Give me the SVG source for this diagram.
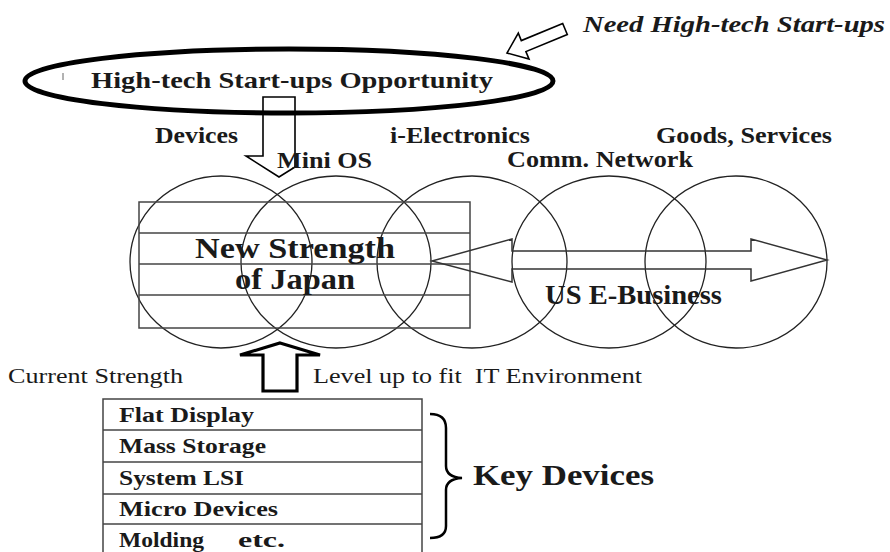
<svg xmlns="http://www.w3.org/2000/svg" width="890" height="552" viewBox="0 0 890 552">
<style>
text{font-family:"Liberation Serif","Times New Roman",serif;fill:#1a1a1a}
.b{font-weight:bold}
.lbl{font-size:24px;font-weight:bold}
.row{font-size:20px;font-weight:bold}
.reg{font-size:22px;white-space:pre}
.thin{fill:none;stroke:#222;stroke-width:1.3}
.grid{fill:none;stroke:#444;stroke-width:1.5}
</style>
<rect width="890" height="552" fill="#fff"/>

<g id="opportunity">
<ellipse cx="289" cy="81" rx="264" ry="32" fill="none" stroke="#000" stroke-width="5"/>
<line x1="63" y1="73" x2="63" y2="80" stroke="#666" stroke-width="1"/>
<text class="b" x="91" y="88" font-size="23" textLength="402" lengthAdjust="spacingAndGlyphs">High-tech Start-ups Opportunity</text>
</g>

<g id="need">
<text class="b" x="583" y="32" font-size="23" font-style="italic" textLength="302" lengthAdjust="spacingAndGlyphs">Need High-tech Start-ups</text>
</g>

<g id="circles">
<ellipse class="thin" cx="221" cy="262" rx="91" ry="86"/>
<ellipse class="thin" cx="336" cy="262" rx="95" ry="86"/>
<ellipse class="thin" cx="472" cy="262" rx="95" ry="86"/>
<ellipse class="thin" cx="609" cy="262" rx="97" ry="86"/>
<ellipse class="thin" cx="736" cy="262" rx="91" ry="86"/>
</g>

<g id="new-strength">
<rect class="grid" x="139" y="202" width="331" height="126"/>
<line class="grid" x1="139" y1="233" x2="470" y2="233"/>
<line class="grid" x1="139" y1="264" x2="470" y2="264"/>
<line class="grid" x1="139" y1="295" x2="470" y2="295"/>
<text class="b" x="195" y="258" font-size="30" textLength="200" lengthAdjust="spacingAndGlyphs">New Strength</text>
<text class="b" x="235" y="289" font-size="30" textLength="120" lengthAdjust="spacingAndGlyphs">of Japan</text>
</g>

<g id="labels">
<text class="lbl" x="155" y="143" textLength="83" lengthAdjust="spacingAndGlyphs">Devices</text>
<text class="lbl" x="390" y="143" textLength="140" lengthAdjust="spacingAndGlyphs">i-Electronics</text>
<text class="lbl" x="656" y="143" textLength="176" lengthAdjust="spacingAndGlyphs">Goods, Services</text>
<text class="lbl" x="507" y="167" textLength="186" lengthAdjust="spacingAndGlyphs">Comm. Network</text>
</g>

<g id="us-ebusiness">
<text class="b" x="545" y="304" font-size="27" textLength="177" lengthAdjust="spacingAndGlyphs">US E-Business</text>
</g>

<g id="connectors">
<polygon points="562.7,23.5 521.3,40.6 518.3,33.2 507,53 529,59 525.9,51.6 567.3,34.5" fill="#fff" stroke="#000" stroke-width="1.6" stroke-linejoin="miter"/>
<polygon points="263,97 295,97 295,167 279,177 246,156 263,156" fill="none" stroke="#000" stroke-width="1.6"/>
<polygon points="432,261 512,239 512,251 751,251 751,239 827,260 751,281 751,269 512,269 512,282" fill="none" stroke="#333" stroke-width="1.5"/>
<polygon points="280,343 320,355 297,355 297,391 263,391 263,355 240,355" fill="none" stroke="#000" stroke-width="3.2"/>
<path d="M430,414 Q446,414 446,428 L446,466 Q446,477 462,478 Q446,479 446,490 L446,526 Q446,538 430,538" fill="none" stroke="#000" stroke-width="2.5"/>
</g>

<g id="mini-os">
<text class="lbl" x="277" y="168" textLength="95" lengthAdjust="spacingAndGlyphs">Mini OS</text>
</g>

<g id="current">
<text class="reg" x="8" y="383" textLength="175" lengthAdjust="spacingAndGlyphs">Current Strength</text>
<text class="reg" x="313" y="383" textLength="329" lengthAdjust="spacingAndGlyphs">Level up to fit  IT Environment</text>
</g>

<g id="key-table">
<rect class="grid" x="103" y="399" width="319" height="160"/>
<line class="grid" x1="103" y1="430" x2="422" y2="430"/>
<line class="grid" x1="103" y1="462" x2="422" y2="462"/>
<line class="grid" x1="103" y1="494" x2="422" y2="494"/>
<line class="grid" x1="103" y1="524" x2="422" y2="524"/>
<text class="row" x="119" y="422" textLength="135" lengthAdjust="spacingAndGlyphs">Flat Display</text>
<text class="row" x="119" y="453" textLength="147" lengthAdjust="spacingAndGlyphs">Mass Storage</text>
<text class="row" x="119" y="485" textLength="125" lengthAdjust="spacingAndGlyphs">System LSI</text>
<text class="row" x="119" y="516" textLength="159" lengthAdjust="spacingAndGlyphs">Micro Devices</text>
<text class="row" x="119" y="547" textLength="85" lengthAdjust="spacingAndGlyphs">Molding</text>
<text class="row" x="238" y="547" textLength="47" lengthAdjust="spacingAndGlyphs">etc.</text>
</g>

<g id="key-devices">
<text class="b" x="473" y="485" font-size="29" textLength="181" lengthAdjust="spacingAndGlyphs">Key Devices</text>
</g>
</svg>
